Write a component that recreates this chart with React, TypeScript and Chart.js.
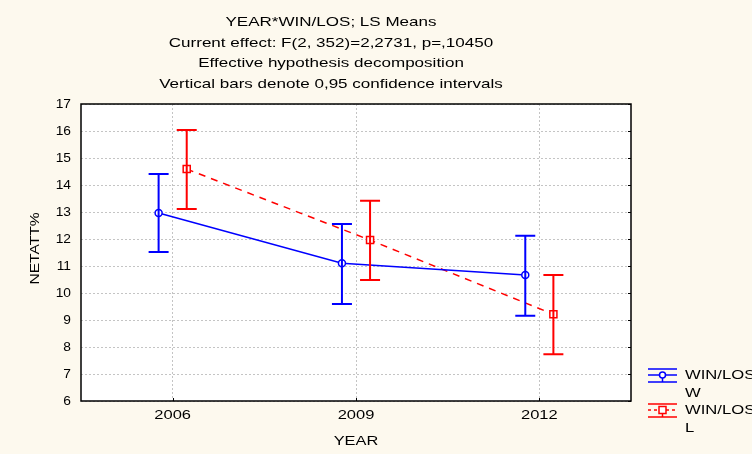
import React, { useEffect, useRef } from "react";
import { Chart, registerables } from "chart.js";

Chart.register(...registerables);

const titleLines = [
  "YEAR*WIN/LOS; LS Means",
  "Current effect: F(2, 352)=2,2731, p=,10450",
  "Effective hypothesis decomposition",
  "Vertical bars denote 0,95 confidence intervals",
];
const years = [2006, 2009, 2012];
const yTicks = [6, 7, 8, 9, 10, 11, 12, 13, 14, 15, 16, 17];
const winMean = [12.96, 11.1, 10.67];
const winLower = [11.52, 9.59, 9.16];
const winUpper = [14.41, 12.56, 12.12];
const losMean = [14.59, 11.96, 9.21];
const losLower = [13.11, 10.48, 7.73];
const losUpper = [16.04, 13.42, 10.67];
const seriesNames = ["WIN/LOS", "WIN/LOS"];
const seriesLevels = ["W", "L"];
const xTitle = "YEAR";
const yTitle = "NETATT%";

const BLUE = "#0000ff";
const RED = "#ff0000";
const FONT = "'Liberation Sans', Arial, sans-serif";
const OFFSET = 0.23;

function stretchText(ctx: CanvasRenderingContext2D, text: string, x: number, y: number, align: CanvasTextAlign, sx: number) {
  ctx.save();
  ctx.translate(x, y);
  ctx.scale(sx, 1);
  ctx.textAlign = align;
  ctx.fillText(text, 0, 0);
  ctx.restore();
}

export default function App() {
  const ref = useRef<HTMLCanvasElement>(null);
  useEffect(() => {
    document.body.style.margin = "0";
    document.body.style.background = "#fdf9ee";
    const canvas = ref.current!;
    const errorBars = {
      id: "errorBars",
      afterDatasetsDraw(chart: any) {
        const ctx = chart.ctx;
        const xs = chart.scales.x;
        const ys = chart.scales.y;
        const sets = [
          { lo: winLower, hi: winUpper, off: -OFFSET, color: BLUE },
          { lo: losLower, hi: losUpper, off: OFFSET, color: RED },
        ];
        ctx.save();
        ctx.lineWidth = 2;
        sets.forEach((s) => {
          ctx.strokeStyle = s.color;
          years.forEach((yr, i) => {
            const px = xs.getPixelForValue(yr + s.off);
            const top = ys.getPixelForValue(s.hi[i]);
            const bot = ys.getPixelForValue(s.lo[i]);
            ctx.beginPath();
            ctx.moveTo(px, top);
            ctx.lineTo(px, bot);
            ctx.moveTo(px - 10, top);
            ctx.lineTo(px + 10, top);
            ctx.moveTo(px - 10, bot);
            ctx.lineTo(px + 10, bot);
            ctx.stroke();
          });
        });
        ctx.restore();
      },
    };
    const decor = {
      id: "decor",
      beforeDraw(chart: any) {
        const ctx = chart.ctx;
        const a = chart.chartArea;
        ctx.save();
        ctx.fillStyle = "#fdf9ee";
        ctx.fillRect(0, 0, chart.width, chart.height);
        ctx.fillStyle = "#ffffff";
        ctx.fillRect(a.left, a.top, a.right - a.left, a.bottom - a.top);
        ctx.restore();
      },
      afterDraw(chart: any) {
        const ctx = chart.ctx;
        const a = chart.chartArea;
        const xs = chart.scales.x;
        const ys = chart.scales.y;
        ctx.save();
        ctx.fillStyle = "#000";
        ctx.font = `13px ${FONT}`;
        ctx.textBaseline = "middle";
        const tys = [22, 43, 63, 84];
        titleLines.forEach((t, i) => stretchText(ctx, t, 331, tys[i], "center", 1.31));
        stretchText(ctx, xTitle, (a.left + a.right) / 2, 441, "center", 1.26);
        years.forEach((yr) => stretchText(ctx, String(yr), xs.getPixelForValue(yr), 415.5, "center", 1.27));
        yTicks.forEach((v) => stretchText(ctx, String(v), 71, ys.getPixelForValue(v), "right", 1.06));
        ctx.save();
        ctx.translate(35, (a.top + a.bottom) / 2 - 4);
        ctx.rotate(-Math.PI / 2);
        stretchText(ctx, yTitle, 0, 0, "center", 1.2);
        ctx.restore();
        // frame
        ctx.strokeStyle = "#000";
        ctx.lineWidth = 1.5;
        ctx.strokeRect(a.left, a.top, a.right - a.left, a.bottom - a.top);
        // inner ticks on right and bottom
        ctx.lineWidth = 1;
        yTicks.forEach((v) => {
          const py = Math.round(ys.getPixelForValue(v)) + 0.5;
          ctx.beginPath();
          ctx.moveTo(a.right - 3, py);
          ctx.lineTo(a.right, py);
          ctx.stroke();
        });
        years.forEach((yr) => {
          const px = Math.round(xs.getPixelForValue(yr)) + 0.5;
          ctx.beginPath();
          ctx.moveTo(px, a.bottom - 3);
          ctx.lineTo(px, a.bottom);
          ctx.stroke();
        });
        // legend
        const items = [
          { color: BLUE, y: 375, dash: [] as number[], shape: "circle" },
          { color: RED, y: 410, dash: [3, 3], shape: "rect" },
        ];
        items.forEach((it, i) => {
          const x0 = 648, x1 = 677, xm = 662.5;
          ctx.strokeStyle = it.color;
          ctx.lineWidth = 1.5;
          ctx.setLineDash([]);
          ctx.beginPath();
          ctx.moveTo(x0, it.y - 6);
          ctx.lineTo(x1, it.y - 6);
          ctx.moveTo(x0, it.y + 7);
          ctx.lineTo(x1, it.y + 7);
          ctx.moveTo(xm, it.y);
          ctx.lineTo(xm, it.y + 7);
          ctx.stroke();
          ctx.setLineDash(it.dash);
          ctx.beginPath();
          ctx.moveTo(x0, it.y);
          ctx.lineTo(x1, it.y);
          ctx.stroke();
          ctx.setLineDash([]);
          ctx.fillStyle = "#fff";
          ctx.beginPath();
          if (it.shape === "circle") {
            ctx.arc(xm, it.y, 3, 0, Math.PI * 2);
          } else {
            ctx.rect(xm - 3.5, it.y - 3.5, 7, 7);
          }
          ctx.fill();
          ctx.stroke();
          ctx.fillStyle = "#000";
          ctx.font = `13px ${FONT}`;
          stretchText(ctx, seriesNames[i], 685, it.y, "left", 1.28);
          stretchText(ctx, seriesLevels[i], 685, it.y + 18, "left", 1.28);
        });
        ctx.restore();
      },
    };
    const chart = new Chart(canvas, {
      type: "line",
      data: {
        datasets: [
          {
            label: seriesNames[0] + " " + seriesLevels[0],
            data: years.map((yr, i) => ({ x: yr - OFFSET, y: winMean[i] })),
            borderColor: BLUE,
            borderWidth: 1.5,
            pointStyle: "circle",
            pointRadius: 3.5,
            pointBackgroundColor: "#fff",
            pointBorderColor: BLUE,
            pointBorderWidth: 1.5,
            fill: false,
            tension: 0,
          },
          {
            label: seriesNames[1] + " " + seriesLevels[1],
            data: years.map((yr, i) => ({ x: yr + OFFSET, y: losMean[i] })),
            borderColor: RED,
            borderWidth: 1.5,
            borderDash: [7, 6],
            pointStyle: "rect",
            pointRadius: 5,
            pointBackgroundColor: "#fff",
            pointBorderColor: RED,
            pointBorderWidth: 1.5,
            fill: false,
            tension: 0,
          },
        ],
      },
      options: {
        animation: false,
        responsive: false,
        events: [],
        layout: { padding: { left: 0, right: 121, top: 104, bottom: 0 } },
        plugins: { legend: { display: false }, title: { display: false }, tooltip: { enabled: false } },
        scales: {
          x: {
            type: "linear",
            min: 2004.5,
            max: 2013.5,
            afterFit: (s: any) => { s.height = 53; },
            afterBuildTicks: (s: any) => { s.ticks = years.map((v) => ({ value: v })); },
            ticks: { display: false, autoSkip: false },
            grid: { color: "#c4c4c4", lineWidth: 1, drawTicks: false },
            border: { display: false, dash: [2, 2] },
          },
          y: {
            min: 6,
            max: 17,
            afterFit: (s: any) => { s.width = 81; },
            afterBuildTicks: (s: any) => { s.ticks = yTicks.map((v) => ({ value: v })); },
            ticks: { display: false, autoSkip: false },
            grid: { color: "#c4c4c4", lineWidth: 1, drawTicks: false },
            border: { display: false, dash: [2, 2] },
          },
        },
      },
      plugins: [decor, errorBars],
    });
    return () => chart.destroy();
  }, []);
  return <canvas ref={ref} width={752} height={454} style={{ display: "block" }} />;
}
